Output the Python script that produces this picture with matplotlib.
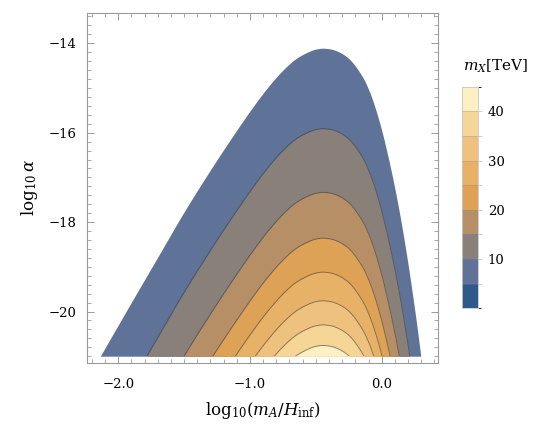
import numpy as np
import matplotlib
matplotlib.use("Agg")
import matplotlib.pyplot as plt
from matplotlib.colors import ListedColormap, BoundaryNorm
from matplotlib.cm import ScalarMappable
from matplotlib.patches import Rectangle
from matplotlib.ticker import MultipleLocator

plt.rcParams["font.family"] = "DejaVu Serif"
plt.rcParams["mathtext.fontset"] = "dejavuserif"

# outer edge of the filled region
edge_x = [-2.137, -1.9, -1.7, -1.5, -1.3, -1.1, -0.95, -0.85, -0.75, -0.65,
          -0.55, -0.5, -0.438, -0.35, -0.25, -0.15, -0.10, -0.05, 0.0, 0.05,
          0.10, 0.15, 0.20, 0.24, 0.27, 0.297]
edge_y = [-21.0, -19.79, -18.78, -17.77, -16.83, -15.94, -15.31, -14.93, -14.60, -14.34,
          -14.18, -14.13, -14.11, -14.16, -14.34, -14.73, -15.03, -15.44, -15.95, -16.56,
          -17.25, -18.04, -18.94, -19.74, -20.38, -21.0]
alpha_floor = -21.0

# m_X contour levels [TeV] and the log10(alpha) of each contour's apex
levels = [10, 15, 20, 25, 30, 35, 40]
level_top = [-15.91, -17.335, -18.36, -19.12, -19.76, -20.30, -20.76]

# colour bins of the legend
bounds = [0, 5, 10, 15, 20, 25, 30, 35, 40, 45]
band_colors = ["#2e5a8a", "#5f7297", "#8a807a", "#b68f67", "#dda256",
               "#e7b268", "#eec27e", "#f6d696", "#fdf0c4"]

x_ticks = [-2.0, -1.0, 0.0]
x_tick_labels = ["\u22122.0", "\u22121.0", "0.0"]
y_ticks = [-20, -18, -16, -14]
y_tick_labels = ["\u221220", "\u221218", "\u221216", "\u221214"]
cbar_ticks = [5, 10, 15, 20, 25, 30, 35, 40]
cbar_tick_labels = ["", "10", "", "20", "", "30", "", "40"]


def smooth_path(xs, ys, n=16, xscale=3.0):
    """centripetal Catmull-Rom through the read points, only for drawing"""
    p = np.column_stack([np.asarray(xs) * xscale, np.asarray(ys)])
    p = np.vstack([2 * p[0] - p[1], p, 2 * p[-1] - p[-2]])
    out = []
    for i in range(1, len(p) - 2):
        p0, p1, p2, p3 = p[i - 1], p[i], p[i + 1], p[i + 2]
        t1 = np.linalg.norm(p1 - p0) ** 0.5
        t2 = t1 + np.linalg.norm(p2 - p1) ** 0.5
        t3 = t2 + np.linalg.norm(p3 - p2) ** 0.5
        t = np.linspace(t1, t2, n, endpoint=False)[:, None]
        a1 = (t1 - t) / t1 * p0 + t / t1 * p1
        a2 = (t2 - t) / (t2 - t1) * p1 + (t - t1) / (t2 - t1) * p2
        a3 = (t3 - t) / (t3 - t2) * p2 + (t - t2) / (t3 - t2) * p3
        b1 = (t2 - t) / t2 * a1 + t / t2 * a2
        b2 = (t3 - t) / (t3 - t1) * a2 + (t - t1) / (t3 - t1) * a3
        out.append((t2 - t) / (t2 - t1) * b1 + (t - t1) / (t2 - t1) * b2)
    out.append(p[-2][None, :])
    c = np.vstack(out)
    return c[:, 0] / xscale, c[:, 1]


W, H = 539, 430
fig = plt.figure(figsize=(W / 100, H / 100), dpi=100)
ax = fig.add_axes([86.7 / W, 1 - 363 / H, 351.6 / W, 350 / H])

x, edge = smooth_path(edge_x, edge_y)
apex = max(edge_y)
# every contour has the shape of the outer edge, lowered to its own apex
curves = [edge] + [edge - (apex - t) for t in level_top]

for i, c in enumerate(curves):
    ax.fill_between(x, alpha_floor, c, where=c >= alpha_floor, interpolate=True,
                    color=band_colors[i + 1], lw=0, zorder=1 + i * 0.01)

clip = Rectangle((-5, alpha_floor), 10, 20, transform=ax.transData)
for c in curves[1:]:
    ln, = ax.plot(x, c, color="#3c3c3c", lw=0.7, alpha=0.55, zorder=3)
    ln.set_clip_path(clip)

ax.set_xlim(-2.240, 0.430)
ax.set_ylim(-21.152, -13.322)
ax.set_xticks(x_ticks, x_tick_labels)
ax.set_yticks(y_ticks, y_tick_labels)
ax.xaxis.set_minor_locator(MultipleLocator(0.1))
ax.yaxis.set_minor_locator(MultipleLocator(0.2))
ax.tick_params(which="both", direction="in", top=True, right=True, color="#9a9a9a")
ax.tick_params(which="major", length=4.8, width=0.7, labelsize=9.5)
ax.tick_params(which="minor", length=2.8, width=0.6)
ax.tick_params(axis="x", pad=11)
ax.tick_params(axis="y", pad=7.5)
for s in ax.spines.values():
    s.set_color("#9a9a9a")
    s.set_linewidth(0.8)

ax.set_xlabel(r"$\mathrm{log}_{10}(m_A/H_{\mathrm{inf}})$", fontsize=12, labelpad=6)
ax.set_ylabel(r"$\mathrm{log}_{10}\,\alpha$", fontsize=12, labelpad=6)

cax = fig.add_axes([462.3 / W, 1 - 308.3 / H, 15.4 / W, 221.6 / H])
cmap = ListedColormap(band_colors)
norm = BoundaryNorm(bounds, cmap.N)
cb = fig.colorbar(ScalarMappable(norm=norm, cmap=cmap), cax=cax, drawedges=True)
cb.set_ticks(cbar_ticks, labels=cbar_tick_labels)
cb.outline.set_edgecolor("#c8c8c8")
cb.outline.set_linewidth(0.6)
cb.dividers.set_color("#8a8a8a")
cb.dividers.set_linewidth(0.4)
cb.dividers.set_alpha(0.5)
cax.tick_params(length=2.8, width=0.6, color="#c8c8c8", labelsize=9.5, pad=4.5)
fig.text(463 / W, 1 - 66 / H, r"$m_X$[TeV]", ha="left", va="center", fontsize=11)

fig.savefig("out.png", dpi=100)
